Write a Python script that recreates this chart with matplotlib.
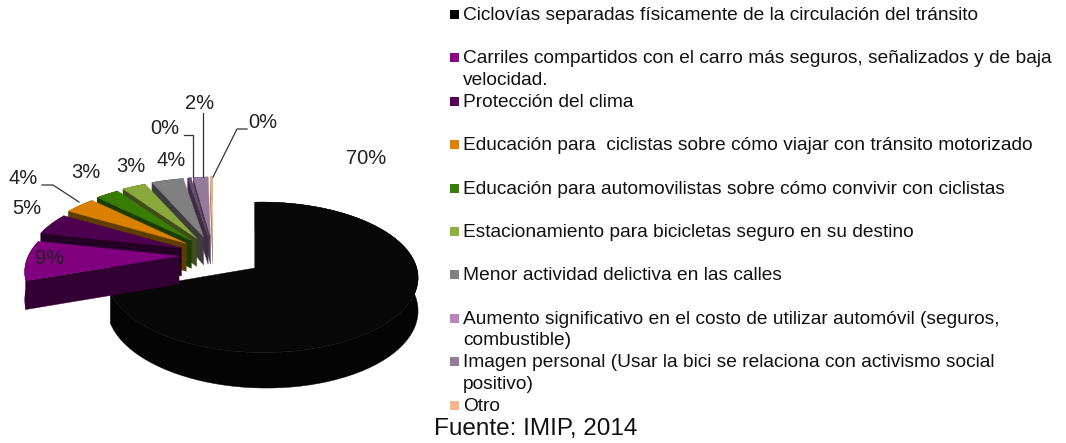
import numpy as np
import matplotlib
matplotlib.use("Agg")
import matplotlib.pyplot as plt
from matplotlib.patches import Polygon, Rectangle

plt.rcParams['font.family'] = ['Liberation Sans', 'DejaVu Sans']

categories = [
    "Ciclovías separadas físicamente de la circulación del tránsito",
    "Carriles compartidos con el carro más seguros, señalizados y de baja\nvelocidad.",
    "Protección del clima",
    "Educación para  ciclistas sobre cómo viajar con tránsito motorizado",
    "Educación para automovilistas sobre cómo convivir con ciclistas",
    "Estacionamiento para bicicletas seguro en su destino",
    "Menor actividad delictiva en las calles",
    "Aumento significativo en el costo de utilizar automóvil (seguros,\ncombustible)",
    "Imagen personal (Usar la bici se relaciona con activismo social\npositivo)",
    "Otro",
]
values = [69.6, 9.0, 5.0, 3.9, 3.0, 3.0, 4.0, 0.4, 1.8, 0.3]
top_colors = ['#080808', '#800080', '#4e0050', '#d98000', '#3a7d06', '#8aa83c',
              '#808080', '#6a4f72', '#967a9c', '#f4b183']
side_colors = ['#040404', '#330033', '#240026', '#5f3d00', '#1c3c02', '#3f4d1c',
               '#3d3d3d', '#3e2d45', '#4c3c52', '#a87a5a']
legend_colors = ['#000000', '#8e0088', '#560056', '#dd8200', '#3a7d06', '#8fb03e',
                 '#808080', '#b884bc', '#967a9c', '#f8b48c']
source = "Fuente: IMIP, 2014"

label_x = [366, 50, 27, 23, 86, 131, 171, 165, 200, 263]
label_y = [157, 257, 207, 178, 172, 165, 160, 128, 102, 121]

CX, CY = 255, 268
TILT_X = -0.048


def project(theta, rx, ry, persp, depth=0.0):
    d = 1 + persp * np.cos(theta) + TILT_X * np.sin(theta)
    return rx * np.sin(theta) / d, (-ry * np.cos(theta) + depth) / d


def draw_slice(ax, a0, a1, x0, y0, rx, ry, persp, depth, top, side, z):
    th = np.linspace(a0, a1, 80)
    x, y = project(th, rx, ry, persp)
    xb, yb = project(th, rx, ry, persp, depth)
    # outer wall
    ax.add_patch(Polygon(np.r_[np.c_[x0 + x, y0 + y], np.c_[x0 + xb, y0 + yb][::-1]],
                         fc=side, ec=side, lw=0.3, zorder=z))
    # radial wall on the start edge
    ax.add_patch(Polygon([(x0, y0), (x0 + x[0], y0 + y[0]), (x0 + xb[0], y0 + yb[0]), (x0, y0 + depth)],
                         fc=side, ec=side, lw=0.3, zorder=z))
    # top face
    ax.add_patch(Polygon(np.r_[[(x0, y0)], np.c_[x0 + x, y0 + y]],
                         fc=top, ec=top, lw=0.3, zorder=z + 0.5))


def main():
    fig = plt.figure(figsize=(10.66, 4.43), dpi=100)
    ax = fig.add_axes([0, 0, 1, 1])
    ax.set_xlim(0, 1066)
    ax.set_ylim(443, 0)
    ax.axis('off')

    edges = np.radians(np.cumsum([0] + values) * 3.6)

    # the big slice stays at the centre, the others are pulled out of the pie
    draw_slice(ax, edges[0], edges[1], CX, CY, 154, 74, 0.124, 31,
               top_colors[0], side_colors[0], 1)
    for i in range(len(values) - 1, 0, -1):
        mid = (edges[i] + edges[i + 1]) / 2
        x0 = CX - 42 + 34 * np.sin(mid)
        y0 = CY - 13 - 19 * np.cos(mid)
        draw_slice(ax, edges[i], edges[i + 1], x0, y0, 158, 72, 0.218, 28,
                   top_colors[i], side_colors[i], 2 + (len(values) - i))

    for i in range(len(values)):
        ax.text(label_x[i], label_y[i] + 1, f"{values[i]:.0f}%", fontsize=14.5, color='#222222',
                ha='center', va='center', zorder=30)

    # leader lines
    ax.plot([42, 53, 79], [185, 185, 202], color='#333333', lw=0.9, zorder=25)
    ax.plot([184, 193, 193], [135, 135, 177], color='#333333', lw=0.9, zorder=25)
    ax.plot([203, 203], [113, 177], color='#333333', lw=0.9, zorder=25)
    ax.plot([247, 237, 213], [129, 129, 177], color='#333333', lw=0.9, zorder=25)

    for i, name in enumerate(categories):
        y = 14.5 + i * 43.4
        ax.add_patch(Rectangle((450, y - 4.5), 9, 9, fc=legend_colors[i], ec='none', zorder=5))
        ax.text(463, y - 7.5, name, fontsize=13.8, color='#111111', va='top', ha='left',
                linespacing=1.34, zorder=5)

    ax.text(434, 429, source, fontsize=17.5, color='#111111', va='center', ha='left')

    fig.savefig("out.png", dpi=100, facecolor='white')


if __name__ == "__main__":
    main()
